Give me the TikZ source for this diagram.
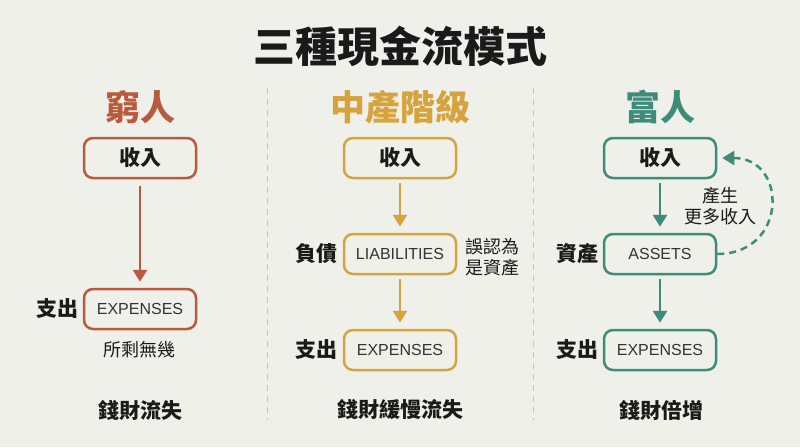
\documentclass[tikz,border=0pt]{standalone}
\usepackage{fontspec}
\setmainfont{Noto Sans CJK TC}
\newfontfamily\latinf{Liberation Sans}
\usetikzlibrary{arrows.meta}
\definecolor{bg}{HTML}{F0F0EB}
\definecolor{poor}{HTML}{B85A3E}
\definecolor{mid}{HTML}{D6A43E}
\definecolor{rich}{HTML}{3D8C7A}
\definecolor{txt}{HTML}{1A1A1A}
\definecolor{etxt}{HTML}{333333}
\definecolor{sep}{HTML}{C4C4C0}
\tikzset{
  fbox/.style={draw=#1, line width=2.5pt, rounded corners=9pt, fill=bg,
    minimum width=112pt, minimum height=40pt, inner sep=0pt, text=txt},
  inctext/.style={font=\fontsize{21}{24}\selectfont\bfseries},
  entext/.style={font=\latinf\fontsize{16}{18}\selectfont, text=etxt},
  head/.style={font=\fontsize{35}{40}\selectfont\bfseries, text=#1},
  side/.style={font=\fontsize{21}{24}\selectfont\bfseries, text=txt},
  note/.style={font=\fontsize{18}{21}\selectfont, text=txt, align=center},
  bottom/.style={font=\fontsize{21}{24}\selectfont\bfseries, text=txt},
  flow/.style={draw=#1, line width=2.8pt, -{Triangle[width=14pt,length=12pt]}},
  sepline/.style={draw=sep, line width=0.9pt, dash pattern=on 6pt off 5pt}
}
\begin{document}
\begin{tikzpicture}[x=1pt,y=-1pt]
\fill[bg] (0,0) rectangle (800,447);
\useasboundingbox (0,0) rectangle (800,447);
% title
\node[font=\fontsize{42}{48}\selectfont\bfseries, text=txt] (title) at (400,46) {三種現金流模式};
% separators
\coordinate (s1a) at (267,88); \coordinate (s1b) at (267,420);
\coordinate (s2a) at (533,88); \coordinate (s2b) at (533,420);
\draw[sepline] (s1a) -- (s1b);
\draw[sepline] (s2a) -- (s2b);
% poor
\node[head=poor] (h1) at (140,107) {窮人};
\node[fbox=poor, inctext] (inc1) at (140,158) {收入};
\node[fbox=poor, entext] (exp1) at (140,309) {EXPENSES};
\node[side] (l1) at (57,309) {支出};
\node[note] (n1) at (139,350) {所剩無幾};
\draw[flow=poor, shorten <=7pt, shorten >=6pt] (inc1) -- (exp1);
\node[bottom] (b1) at (140,410) {錢財流失};
% middle
\node[head=mid] (h2) at (400,107) {中產階級};
\node[fbox=mid, inctext] (inc2) at (400,158) {收入};
\node[fbox=mid, entext] (liab) at (400,254) {LIABILITIES};
\node[fbox=mid, entext] (exp2) at (400,350) {EXPENSES};
\node[side] (l2a) at (316,254) {負債};
\node[side] (l2b) at (316,350) {支出};
\node[note] (n2) at (492,257) {誤認為\\是資產};
\draw[flow=mid, shorten <=4pt, shorten >=6pt] (inc2) -- (liab);
\draw[flow=mid, shorten <=4pt, shorten >=6pt] (liab) -- (exp2);
\node[bottom] (b2) at (400,410) {錢財緩慢流失};
% rich
\node[head=rich] (h3) at (660,107) {富人};
\node[fbox=rich, inctext] (inc3) at (660,158) {收入};
\node[fbox=rich, entext] (ast) at (660,254) {ASSETS};
\node[fbox=rich, entext] (exp3) at (660,350) {EXPENSES};
\node[side] (l3a) at (577,254) {資產};
\node[side] (l3b) at (577,350) {支出};
\node[note] (n3) at (720,206) {產生\\更多收入};
\draw[flow=rich, shorten <=4pt, shorten >=6pt] (inc3) -- (ast);
\draw[flow=rich, shorten <=4pt, shorten >=6pt] (ast) -- (exp3);
\draw[draw=rich, line width=2.5pt, dash pattern=on 7pt off 5pt, -{Triangle[width=14pt,length=12pt]}]
  (ast.east) .. controls (788,254) and (788,158) .. ([xshift=5pt]inc3.east);
\node[bottom] (b3) at (661,410) {錢財倍增};
\end{tikzpicture}
\end{document}
